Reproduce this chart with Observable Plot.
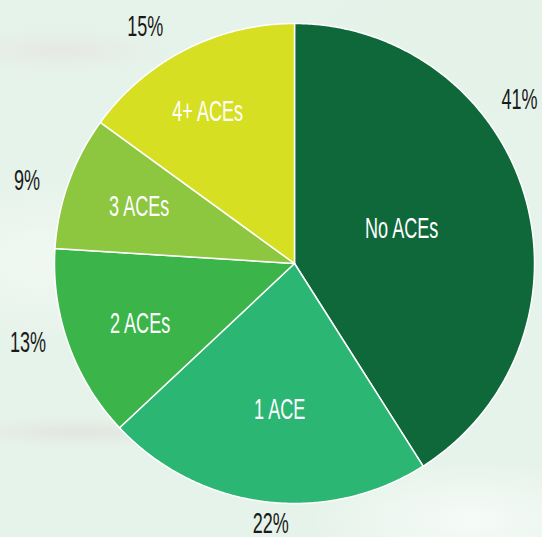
<!DOCTYPE html>
<html>
<head>
<meta charset="utf-8">
<script src="https://cdn.jsdelivr.net/npm/d3@7"></script>
<script src="https://cdn.jsdelivr.net/npm/@observablehq/plot@0.6"></script>
<style>
  html, body { margin: 0; padding: 0; }
  body {
    width: 542px; height: 537px; overflow: hidden;
    background:
      radial-gradient(ellipse 110px 22px at 60px 50px, rgba(228,214,214,0.35), rgba(228,214,214,0) 100%),
      radial-gradient(ellipse 120px 16px at 80px 432px, rgba(222,212,210,0.45), rgba(222,212,210,0) 100%),
      radial-gradient(ellipse 160px 60px at 470px 520px, rgba(250,253,251,0.8), rgba(250,253,251,0) 100%),
      radial-gradient(ellipse 120px 80px at 40px 260px, rgba(245,250,246,0.7), rgba(245,250,246,0) 100%),
      radial-gradient(ellipse 200px 90px at 480px 40px, rgba(228,242,232,0.9), rgba(228,242,232,0) 100%),
      #e6f3ea;
  }
  #chart svg { display: block; background: transparent; }
</style>
</head>
<body>
<div id="chart"></div>
<script>
// ---- data ----
const categories = ["No ACEs", "1 ACE", "2 ACEs", "3 ACEs", "4+ ACEs"];
const percents = [41, 22, 13, 9, 15];
const percentLabels = ["41%", "22%", "13%", "9%", "15%"];
const colors = ["#0f683a", "#2bb673", "#3bb54a", "#8dc63f", "#d7df23"];

// ---- layout (label placement, in units of the pie radius / degrees) ----
const innerLabelRadius = [0.47, 0.61, 0.69, 0.69, 0.73];
const innerLabelShift = [-1.9, -1.4, -1.4, 0.5, -2.7];
const outerLabelRadius = [1.16, 1.09, 1.158, 1.167, 1.167];
const outerLabelShift = [-19.9, -2, 3.3, -2.6, -5.2];

const total = d3.sum(percents);
const rad = (deg) => deg * Math.PI / 180;
// angle measured clockwise from 12 o'clock; y up
const px = (r, a) => r * Math.sin(rad(a));
const py = (r, a) => r * Math.cos(rad(a));

const slices = [];
let start = 0;
categories.forEach((c, i) => {
  const span = percents[i] / total * 360;
  slices.push({cat: c, start, end: start + span, mid: start + span / 2, i});
  start += span;
});

const polygon = [];
for (const s of slices) {
  polygon.push({cat: s.cat, x: 0, y: 0});
  const n = Math.max(2, Math.ceil((s.end - s.start) / 0.5));
  for (let k = 0; k <= n; k++) {
    const a = s.start + (s.end - s.start) * k / n;
    polygon.push({cat: s.cat, x: px(1, a), y: py(1, a)});
  }
  polygon.push({cat: s.cat, x: 0, y: 0});
}

const innerLabels = slices.map(s => ({
  text: s.cat,
  x: px(innerLabelRadius[s.i], s.mid + innerLabelShift[s.i]),
  y: py(innerLabelRadius[s.i], s.mid + innerLabelShift[s.i])
}));
const outerLabels = slices.map(s => ({
  text: percentLabels[s.i],
  x: px(outerLabelRadius[s.i], s.mid + outerLabelShift[s.i]),
  y: py(outerLabelRadius[s.i], s.mid + outerLabelShift[s.i])
}));

const W = 542, H = 537;
const cx = 294, cy = 263, R = 240;
const FS = 29.5;

const chart = Plot.plot({
  width: W,
  height: H,
  margin: 0,
  style: {background: "transparent", overflow: "visible"},
  x: {domain: [-cx / R, (W - cx) / R], axis: null},
  y: {domain: [-(H - cy) / R, cy / R], axis: null},
  color: {domain: categories, range: colors},
  marks: [
    Plot.line(polygon, {x: "x", y: "y", z: "cat", fill: "cat", stroke: "white", strokeWidth: 1.5, strokeLinejoin: "round", curve: "linear"}),
    Plot.text(innerLabels, {x: "x", y: "y", text: "text", fill: "white", fontSize: FS, fontFamily: "Liberation Sans, Arial, sans-serif", textAnchor: "middle"}),
    Plot.text(outerLabels, {x: "x", y: "y", text: "text", fill: "#1a1a1a", fontSize: FS, fontFamily: "Liberation Sans, Arial, sans-serif", textAnchor: "middle"})
  ]
});

document.getElementById("chart").append(chart);

// condense the glyphs horizontally to mimic the condensed typeface
chart.querySelectorAll("text").forEach(t => {
  const w = t.getComputedTextLength();
  if (w > 0) {
    t.setAttribute("textLength", (w * 0.645 * 28 / FS).toFixed(1));
    t.setAttribute("lengthAdjust", "spacingAndGlyphs");
  }
});
</script>
</body>
</html>
